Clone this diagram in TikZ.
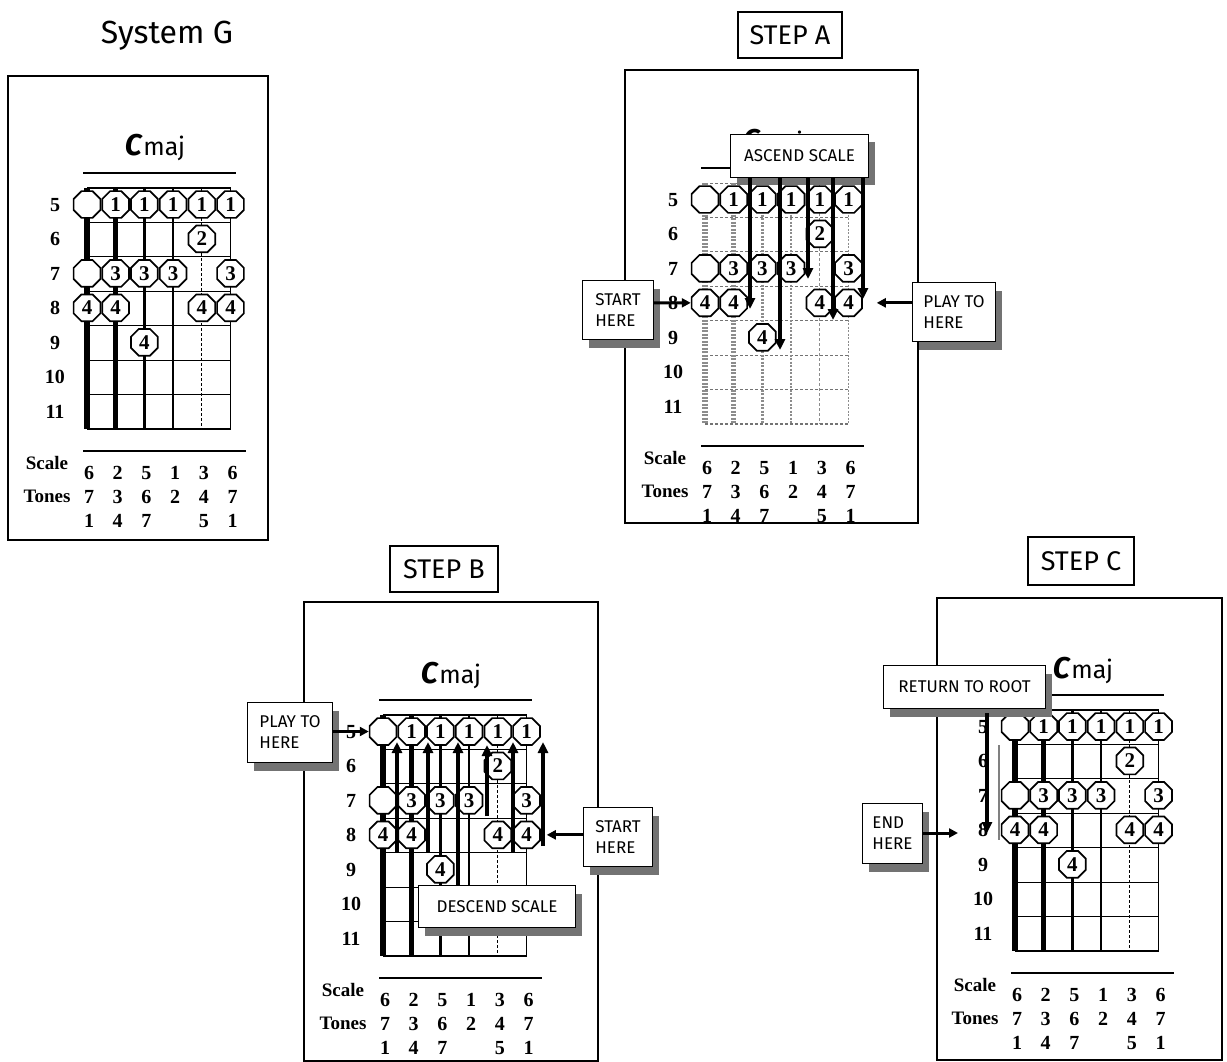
\documentclass[tikz,border=0pt]{standalone}
\usepackage{fontspec}
\setmainfont{Fira Sans}
\newfontfamily\numfont{Liberation Serif}
\usetikzlibrary{arrows.meta,shapes.geometric,shadows,calc}
\tikzset{
  oct/.style={regular polygon, regular polygon sides=8, minimum size=29pt, inner sep=0pt,
    draw, line width=1.7pt, fill=white, font=\numfont\bfseries\fontsize{21}{21}\selectfont},
  lbl/.style={font=\numfont\bfseries\fontsize{20}{20}\selectfont, inner sep=0pt},
  wlbl/.style={font=\numfont\bfseries\fontsize{19}{19}\selectfont, inner sep=0pt},
  callout/.style={draw, line width=1pt, fill=white, align=left, inner sep=0pt,
    font=\fontsize{17}{21}\selectfont,
    drop shadow={shadow xshift=6pt, shadow yshift=-8pt, fill=black!55, opacity=1}},
  titlebox/.style={draw, line width=2pt, inner sep=0pt, font=\fontsize{27}{27}\selectfont},
  panel/.style={draw, line width=1.6pt},
  bigarrow/.style={line width=3.5pt, -{Triangle[length=11pt,width=10pt]}},
  medarrow/.style={line width=3pt, -{Triangle[length=9pt,width=9pt]}},
  fretS/.style={draw=black, line width=1.1pt},
  fretF/.style={draw=black!55, line width=0.9pt, dash pattern=on 3pt off 2pt},
  stringS/.style={draw=black},
  stringF/.style={draw=black!45, dash pattern=on 2pt off 1.5pt},
}
% #1 name, #2 x, #3 y, #4 S (solid) or F (faded)
\newcommand\DrawBoard[4]{%
\begin{scope}[shift={(#2,#3)}]
  \node at (68,-40) {{\bfseries\itshape\fontsize{30}{30}\selectfont C}\,{\fontsize{25}{25}\selectfont maj}};
  \draw[line width=2.5pt] (-4,-15) -- (149,-15);
  \foreach \k in {0,...,6} \draw[fret#4] (0,\k*34.45) -- (143.5,\k*34.45);
  \draw[fret#4, line width=2.4pt] (0,241.2) -- (143.5,241.2);
  \foreach \si/\w in {1/6.5,2/5.5,3/3.8,4/2.2,6/1.4}
    \draw[string#4, line width=\w pt] ({(\si-1)*28.7},0) -- ({(\si-1)*28.7},241.2);
  \draw[string#4, line width=1pt, dash pattern=on 3pt off 2pt] (114.8,0) -- (114.8,241.2);
  \foreach \si/\ri/\ti in {1/5/{},2/5/1,3/5/1,4/5/1,5/5/1,6/5/1,5/6/2,
      1/7/{},2/7/3,3/7/3,4/7/3,6/7/3,1/8/4,2/8/4,5/8/4,6/8/4,3/9/4}
    \node[oct] (#1-\si-\ri) at ({(\si-1)*28.7},{(\ri-5)*34.45+16.5}) {\ti};
  \foreach \ri in {5,...,11}
    \node[lbl] at (-32,{(\ri-5)*34.45+17}) {\ri};
  \draw[line width=2pt] (-4,263) -- (159,263);
  \node[wlbl] at (-40,275) {Scale};
  \node[wlbl] at (-40,308) {Tones};
  \foreach \si/\ti in {1/6,2/2,3/5,4/1,5/3,6/6}
    \node[lbl] at ({(\si-1)*28.7+2},285) {\ti};
  \foreach \si/\ti in {1/7,2/3,3/6,4/2,5/4,6/7}
    \node[lbl] at ({(\si-1)*28.7+2},309) {\ti};
  \foreach \si/\ti in {1/1,2/4,3/7,5/5,6/1}
    \node[lbl] at ({(\si-1)*28.7+2},333) {\ti};
\end{scope}}

\begin{document}
\begin{tikzpicture}[x=1pt,y=-1pt]
\useasboundingbox[fill=white] (0,0) rectangle (1227,1062);

% ---------------- System G ----------------
\node (titleG) at (167,36) {\fontsize{32}{32}\selectfont System G};
\draw[panel] (8,76) rectangle (268,540);
\DrawBoard{G}{87}{188}{S}

% ---------------- Step A ----------------
\node[titlebox, minimum width=104pt, minimum height=46pt] (titleA) at (790,35) {STEP A};
\draw[panel] (625,70) rectangle (918,523);
\DrawBoard{A}{705}{183}{F}
\coordinate (a1) at (750,309);
\coordinate (a2) at (780,350);
\coordinate (a3) at (808,279);
\coordinate (a4) at (833,320);
\coordinate (a5) at (863,299);
\node[callout, align=center, minimum width=138pt, minimum height=43pt, anchor=north west] (asc) at (730,134) {ASCEND SCALE};
\foreach \c in {a1,a2,a3,a4,a5}
  \draw[bigarrow] (asc.south -| \c) -- (\c);
\node[callout, minimum width=71pt, minimum height=59pt, anchor=north west] (startA) at (582,280) {START\\HERE};
\node[callout, minimum width=83pt, minimum height=59pt, anchor=north west] (playA) at (912,282) {PLAY TO\\HERE};
\draw[medarrow] (startA.east |- A-1-8) -- (A-1-8.west);
\coordinate (pA) at ($(A-6-8.east)+(14,0)$);
\draw[medarrow] (playA.west |- pA) -- (pA);

% ---------------- Step B ----------------
\node[titlebox, minimum width=108pt, minimum height=46pt] (titleB) at (444,569) {STEP B};
\draw[panel] (304,602) -- (304,1061) -- (598,1061) -- (598,602) -- cycle;
\DrawBoard{B}{383}{715}{S}
\coordinate (b1s) at (397,852); \coordinate (b1e) at (397,742);
\coordinate (b2s) at (428,852); \coordinate (b2e) at (428,742);
\coordinate (b3s) at (458,886); \coordinate (b3e) at (458,742);
\coordinate (b4s) at (487,816); \coordinate (b4e) at (487,745);
\coordinate (b5s) at (513,852); \coordinate (b5e) at (513,742);
\coordinate (b6s) at (543,846); \coordinate (b6e) at (543,742);
\foreach \i in {1,...,6}
  \draw[bigarrow] (b\i s) -- (b\i e);
\node[callout, align=center, minimum width=157pt, minimum height=42pt, anchor=north west] (desc) at (418,885) {DESCEND SCALE};
\node[callout, minimum width=85pt, minimum height=60pt, anchor=north west] (playB) at (247,702) {PLAY TO\\HERE};
\node[callout, minimum width=69pt, minimum height=59pt, anchor=north west] (startB) at (583,807) {START\\HERE};
\draw[medarrow] (playB.east |- B-1-5) -- (B-1-5.west);
\coordinate (sB) at ($(B-6-8.east)+(6,0)$);
\draw[medarrow] (startB.west |- sB) -- (sB);

% ---------------- Step C ----------------
\node[titlebox, minimum width=106pt, minimum height=48pt] (titleC) at (1081,561) {STEP C};
\draw[panel] (937,598) rectangle (1222,1060);
\DrawBoard{C}{1015}{710}{S}
\node[callout, align=center, minimum width=162pt, minimum height=43pt, anchor=north west] (ret) at (883,665) {RETURN TO ROOT};
\coordinate (cR) at (987,833);
\draw[bigarrow] (ret.south -| cR) ++(0,4) -- (cR);
\draw[line width=2pt, black!50] (999,745) -- (999,840);
\node[callout, minimum width=60pt, minimum height=60pt, anchor=north west] (endC) at (862,803) {END\\HERE};
\coordinate (eC) at (958,833);
\draw[medarrow] (endC.east |- eC) -- (eC);
\end{tikzpicture}
\end{document}
